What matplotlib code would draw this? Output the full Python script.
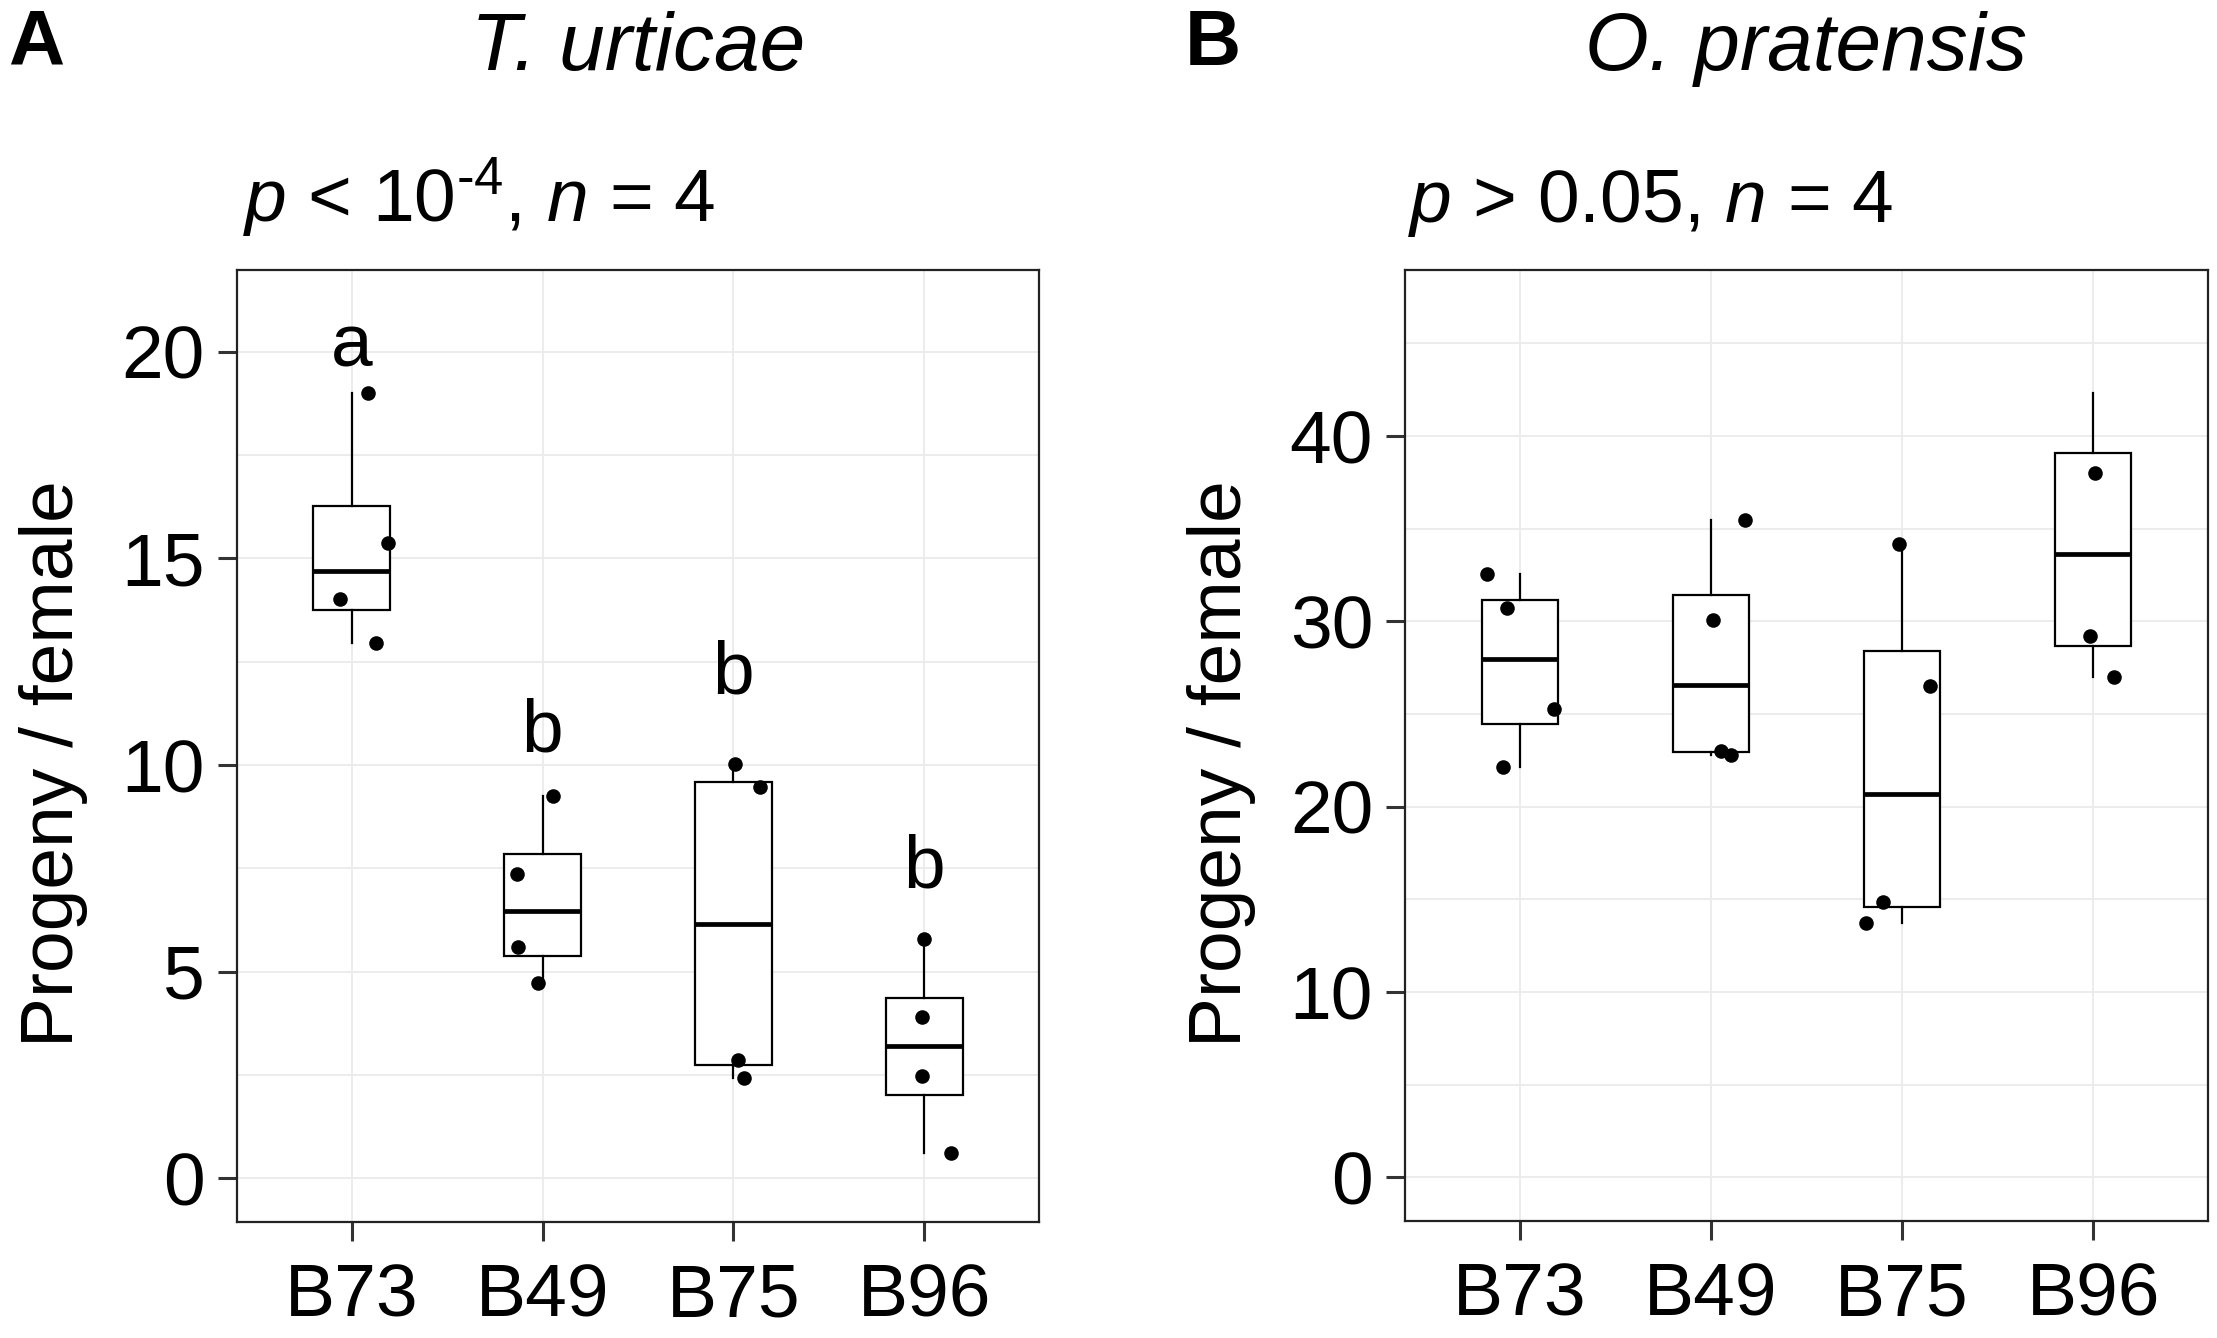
import numpy as np
import matplotlib
matplotlib.use('Agg')
import matplotlib.pyplot as plt
from matplotlib.ticker import MultipleLocator

plt.rcParams['font.family'] = ['Liberation Sans', 'DejaVu Sans']
plt.rcParams['mathtext.fontset'] = 'custom'
plt.rcParams['mathtext.rm'] = 'Liberation Sans'
plt.rcParams['mathtext.it'] = 'Liberation Sans:italic'

groups = ['B73', 'B49', 'B75', 'B96']

# T. urticae: progeny per female (4 replicates per line) and horizontal jitter of the dots
tu_vals = [[19.01, 15.37, 14.01, 12.95],
           [9.25, 7.37, 5.59, 4.74],
           [10.03, 9.46, 2.86, 2.42],
           [5.80, 3.90, 2.49, 0.62]]
tu_jit = [[0.086, 0.19, -0.063, 0.13],
          [0.054, -0.136, -0.13, -0.026],
          [0.01, 0.137, 0.024, 0.056],
          [0.0, -0.014, -0.014, 0.139]]
tu_letters = ['a', 'b', 'b', 'b']
tu_letter_y = [19.64, 10.34, 11.73, 7.03]

# O. pratensis (one B96 dot is not drawn in the original)
op_vals = [[32.56, 30.71, 25.26, 22.16],
           [35.49, 30.08, 23.02, 22.79],
           [34.18, 26.51, 14.87, 13.74],
           [42.3, 38.03, 29.21, 26.98]]
op_jit = [[-0.17, -0.07, 0.177, -0.087],
          [0.18, 0.012, 0.052, 0.104],
          [-0.017, 0.148, -0.10, -0.19],
          [np.nan, 0.009, -0.017, 0.110]]

W, H = 2217, 1338
fig = plt.figure(figsize=(W / 100, H / 100), dpi=100)


def rect(l, t, r, b):
    return [l / W, 1 - b / H, (r - l) / W, (b - t) / H]


def panel(ax, vals, jit, ylim, major):
    pos = np.arange(1, len(groups) + 1)
    ax.boxplot(vals, positions=pos, widths=0.4, whis=1.5, showfliers=False,
               showcaps=False, patch_artist=True,
               boxprops=dict(facecolor='white', edgecolor='black', linewidth=1.6),
               medianprops=dict(color='black', linewidth=3.4),
               whiskerprops=dict(color='black', linewidth=1.6), zorder=2)
    for i in range(len(groups)):
        ax.scatter(pos[i] + np.array(jit[i]), vals[i], s=110, color='black',
                   linewidths=0, zorder=4)
    ax.set_xlim(0.4, 4.6)
    ax.set_ylim(*ylim)
    ax.set_xticks(pos, groups)
    ax.yaxis.set_major_locator(MultipleLocator(major))
    ax.yaxis.set_minor_locator(MultipleLocator(major / 2))
    ax.set_axisbelow(True)
    ax.grid(which='major', color='#ebebeb', linewidth=1.3)
    ax.grid(which='minor', axis='y', color='#ebebeb', linewidth=1.3)
    ax.tick_params(which='minor', length=0)
    ax.tick_params(axis='both', which='major', labelsize=54, length=13.7,
                   width=2.2, color='#333333', labelcolor='black')
    ax.tick_params(axis='x', pad=16)
    ax.tick_params(axis='y', pad=9.5)
    for s in ax.spines.values():
        s.set_color('#222222')
        s.set_linewidth(1.6)
    ax.set_ylabel('Progeny / female', fontsize=54)
    ax.yaxis.set_label_coords(-0.186, 0.481)


axA = fig.add_axes(rect(237, 270, 1039, 1221.7))
panel(axA, tu_vals, tu_jit, (-1.047, 21.98), 5)
for i, (lab, ly) in enumerate(zip(tu_letters, tu_letter_y)):
    axA.text(i + 1, ly, lab, fontsize=54, ha='center', va='baseline', zorder=5)

axB = fig.add_axes(rect(1405.3, 270, 2207.7, 1220.5))
panel(axB, op_vals, op_jit, (-2.33, 48.96), 10)

# panel letters, titles and test results
fig.text(8 / W, 1 - 65 / H, 'A', fontsize=56, fontweight='bold', va='baseline')
fig.text(1185 / W, 1 - 65 / H, 'B', fontsize=56, fontweight='bold', va='baseline')
fig.text(638 / W, 1 - 70 / H, 'T. urticae', fontsize=59, style='italic',
         ha='center', va='baseline')
fig.text(1806 / W, 1 - 70 / H, 'O. pratensis', fontsize=59, style='italic',
         ha='center', va='baseline')
fig.text(243 / W, 1 - 222 / H, r'$p$ < 10$^{\text{-4}}$, $n$ = 4', fontsize=54,
         va='baseline')
fig.text(1408 / W, 1 - 222 / H, r'$p$ > 0.05, $n$ = 4', fontsize=54,
         va='baseline')

fig.savefig('out.png', dpi=100, facecolor='white')
